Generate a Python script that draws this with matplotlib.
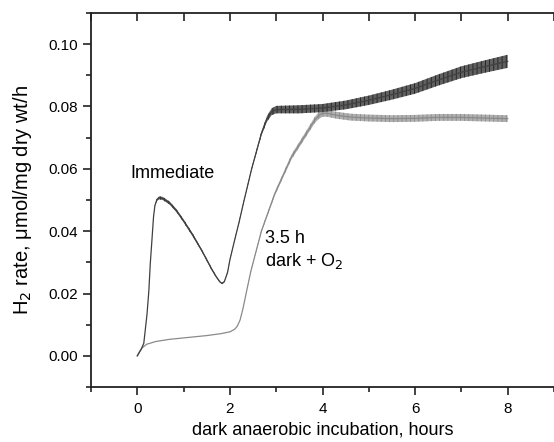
import matplotlib
matplotlib.use("Agg")
import matplotlib.pyplot as plt
import numpy as np
from matplotlib.ticker import MultipleLocator

plt.rcParams['font.family'] = ['Liberation Sans', 'DejaVu Sans']
plt.rcParams['hatch.linewidth'] = 0.6

# "Immediate" series: hours, mean rate, half-width of oscillation band
imm_x = [0.00, 0.08, 0.14, 0.17, 0.21, 0.25, 0.28, 0.32, 0.35, 0.38, 0.42, 0.47, 0.55,
         0.70, 0.85, 1.00, 1.20, 1.40, 1.60, 1.70, 1.78, 1.83, 1.88, 1.95, 2.00, 2.10,
         2.20, 2.30, 2.47, 2.68, 2.80, 2.90, 3.00, 3.50, 4.00, 4.50, 5.00, 5.50, 6.00,
         6.50, 7.00, 7.50, 8.00]
imm_y = [0.0000, 0.0020, 0.0040, 0.0080, 0.0134, 0.0210, 0.0295, 0.0380, 0.0445, 0.0482,
         0.0500, 0.0507, 0.0505, 0.0490, 0.0465, 0.0433, 0.0387, 0.0336, 0.0280, 0.0255,
         0.0238, 0.0232, 0.0238, 0.0268, 0.0308, 0.0370, 0.0430, 0.0495, 0.0600, 0.0713,
         0.0760, 0.0783, 0.0790, 0.0791, 0.0795, 0.0805, 0.0820, 0.0838, 0.0858, 0.0885,
         0.0910, 0.0928, 0.0945]
imm_hw = [0.0, 0.0, 0.0, 0.0, 0.0, 0.0, 0.0, 0.0, 0.0, 0.0002,
          0.0004, 0.0005, 0.0005, 0.0005, 0.0005, 0.0005, 0.0005, 0.0004, 0.0004, 0.0003,
          0.0002, 0.0002, 0.0002, 0.0002, 0.0002, 0.0002, 0.0003, 0.0003, 0.0004, 0.0007,
          0.0009, 0.0011, 0.0012, 0.0013, 0.0013, 0.0014, 0.0015, 0.0016, 0.0017, 0.0018,
          0.0019, 0.0020, 0.0021]

# "3.5 h dark + O2" series
dk_x = [0.00, 0.05, 0.10, 0.20, 0.40, 0.70, 1.10, 1.50, 1.80, 2.00, 2.10, 2.16, 2.22,
        2.28, 2.35, 2.45, 2.57, 2.68, 2.97, 3.33, 3.65, 3.83, 3.92, 4.00, 4.10, 4.30,
        4.60, 5.00, 5.50, 6.00, 6.50, 7.00, 7.50, 8.00]
dk_y = [0.0000, 0.0014, 0.0025, 0.0037, 0.0046, 0.0053, 0.0059, 0.0065, 0.0071, 0.0077,
        0.0085, 0.0095, 0.0115, 0.0150, 0.0200, 0.0270, 0.0338, 0.0400, 0.0520, 0.0638,
        0.0713, 0.0756, 0.0771, 0.0778, 0.0778, 0.0772, 0.0766, 0.0763, 0.0761, 0.0762,
        0.0765, 0.0765, 0.0763, 0.0761]
dk_hw = [0.0, 0.0, 0.0, 0.0, 0.0, 0.0, 0.0, 0.0, 0.0, 0.0,
         0.0, 0.0, 0.0, 0.0, 0.0, 0.0002, 0.0003, 0.0004, 0.0006, 0.0008,
         0.0009, 0.0010, 0.0011, 0.0011, 0.0011, 0.0011, 0.0011, 0.0011, 0.0011, 0.0011,
         0.0011, 0.0011, 0.0011, 0.0011]

x_ticks = [0, 2, 4, 6, 8]
y_ticks = [0.00, 0.02, 0.04, 0.06, 0.08, 0.10]

fig = plt.figure(figsize=(5.54, 4.42), dpi=100)
ax = fig.add_axes([91/554, 55/442, 463/554, 374/442])

ix, iy, ih = np.array(imm_x), np.array(imm_y), np.array(imm_hw)
dx, dy, dh = np.array(dk_x), np.array(dk_y), np.array(dk_hw)

ax.fill_between(dx, dy - dh, dy + dh, facecolor='#b0b0b0', edgecolor='#8a8a8a',
                hatch='||||', lw=0, zorder=2)
ax.plot(dx, dy, color='#8a8a8a', lw=0.9, zorder=3, solid_joinstyle='round')
ax.fill_between(ix, iy - ih, iy + ih, facecolor='#606060', edgecolor='#202020',
                hatch='||||', lw=0, zorder=4)
ax.plot(ix, iy, color='#404040', lw=0.9, zorder=5, solid_joinstyle='round')

ax.set_xlim(-1, 9)
ax.set_ylim(-0.01, 0.11)
ax.set_xticks(x_ticks)
ax.set_yticks(y_ticks)
ax.set_yticklabels([f"{v:.2f}" for v in y_ticks])
ax.xaxis.set_minor_locator(MultipleLocator(1))
ax.yaxis.set_minor_locator(MultipleLocator(0.01))
ax.tick_params(axis='both', which='major', direction='out', length=6, width=1.2,
               labelsize=11, color='#222222')
ax.tick_params(axis='both', which='minor', direction='out', length=3.5, width=1.2,
               color='#222222')
ax.tick_params(axis='x', pad=5)
ax.spines['right'].set_visible(False)
for s in ['left', 'bottom', 'top']:
    ax.spines[s].set_linewidth(1.3)
    ax.spines[s].set_color('#222222')

sec = ax.secondary_xaxis('top')
sec.set_xticks(x_ticks)
sec.xaxis.set_minor_locator(MultipleLocator(1))
sec.tick_params(which='both', direction='in', length=6, width=1.2, labeltop=False,
                color='#222222')
sec.spines['top'].set_visible(False)

ax.set_xlabel("dark anaerobic incubation, hours", fontsize=13, labelpad=4)
ax.set_ylabel("H$_2$ rate, \u03bcmol/mg dry wt/h", fontsize=14.5, labelpad=10)

ax.text(-0.15, 0.0585, "Immediate", fontsize=13, ha='left', va='center')
ax.text(2.75, 0.0376, "3.5 h", fontsize=13, ha='left', va='center')
ax.text(2.75, 0.0305, "dark + O$_2$", fontsize=13, ha='left', va='center')

fig.savefig("out.png", dpi=100)
